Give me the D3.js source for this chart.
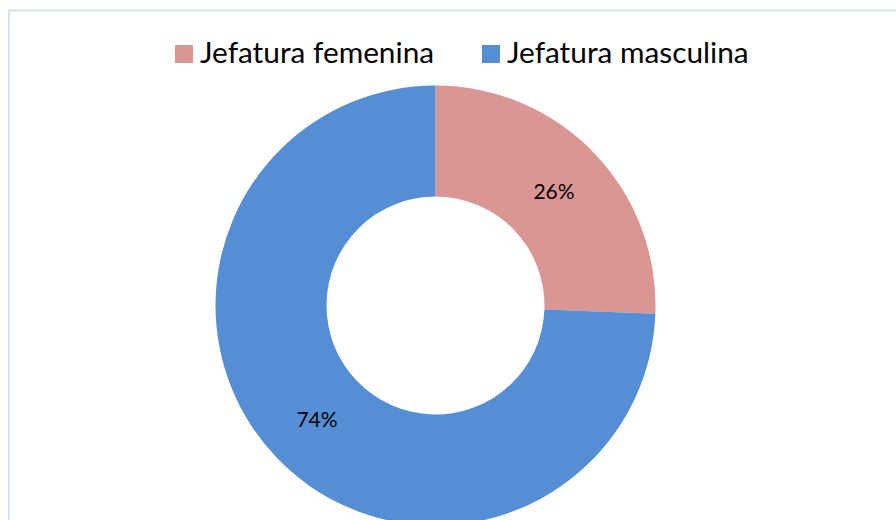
<!DOCTYPE html>
<html>
<head>
<meta charset="utf-8">
<script src="https://cdn.jsdelivr.net/npm/d3@7"></script>
<style>
  body { margin: 0; background: #fff; }
  svg { display: block; font-family: Lato, "Open Sans", sans-serif; }
</style>
</head>
<body>
<svg id="chart" width="896" height="520"></svg>
<script>
// data
var categories = ["Jefatura femenina", "Jefatura masculina"];
var values = [25.6, 74.4];
var colors = ["#d99694", "#558ed5"];

var svg = d3.select("#chart");

// chart frame (runs off the right and bottom edges)
svg.append("rect")
    .attr("x", 9)
    .attr("y", 10.5)
    .attr("width", 1000)
    .attr("height", 600)
    .attr("fill", "none")
    .attr("stroke", "#d6e2f4")
    .attr("stroke-width", 2);

var cx = 435.5, cy = 305.5;
var outerR = 220, innerR = 109;

var pie = d3.pie().sort(null).value(function (d) { return d; });
var arc = d3.arc().innerRadius(innerR).outerRadius(outerR);
var total = d3.sum(values);
var fmt = d3.format(".0%");

var g = svg.append("g")
    .attr("transform", "translate(" + cx + "," + cy + ")");

var slices = pie(values);

g.selectAll("path")
    .data(slices)
    .enter()
    .append("path")
        .attr("d", arc)
        .attr("fill", function (d, i) { return colors[i]; });

// percentage labels at arc centroids
g.selectAll("text")
    .data(slices)
    .enter()
    .append("text")
        .attr("transform", function (d) { return "translate(" + arc.centroid(d) + ")"; })
        .attr("text-anchor", "middle")
        .attr("dy", "0.35em")
        .style("font-size", "21px")
        .style("fill", "#000")
        .text(function (d) { return fmt(d.value / total); });

// legend
var legendX = [175, 482];
var legend = svg.append("g").attr("class", "legenda");

for (var p = 0; p < categories.length; p++) {
    legend.append("rect")
        .attr("x", legendX[p])
        .attr("y", 45)
        .attr("width", 18)
        .attr("height", 18)
        .style("fill", colors[p]);

    legend.append("text")
        .attr("x", legendX[p] + 25)
        .attr("y", 63)
        .style("font-size", "29.8px")
        .style("fill", "#000")
        .text(categories[p]);
}
</script>
</body>
</html>
